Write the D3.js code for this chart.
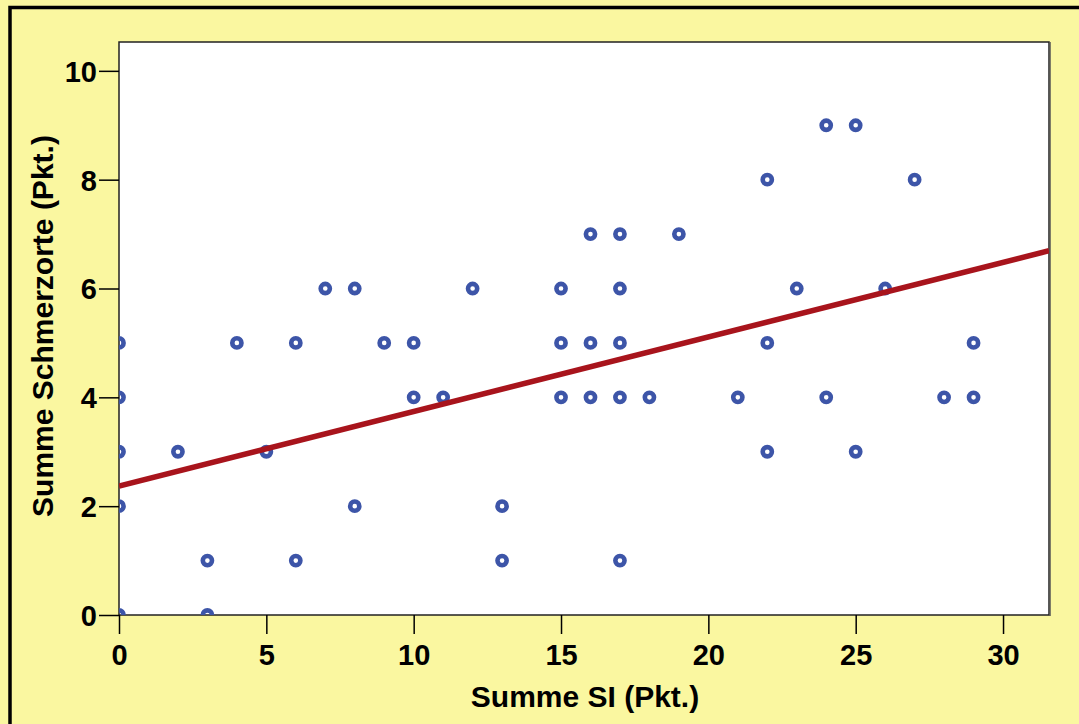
<!DOCTYPE html>
<html><head><meta charset="utf-8">
<script src="https://cdn.jsdelivr.net/npm/d3@7"></script>
<style>body{margin:0;background:#fff;}svg{display:block;}</style>
</head><body>
<svg id="c" width="1079" height="724"></svg>
<script>
const xValues = [0,0,0,0,0,2,3,3,4,5,6,6,7,8,8,9,10,10,11,12,13,13,15,15,15,16,16,16,17,17,17,17,17,18,19,21,22,22,22,23,24,24,25,25,26,27,28,29,29];
const yValues = [0,2,3,4,5,3,1,0,5,3,5,1,6,6,2,5,5,4,4,6,2,1,6,5,4,7,5,4,7,6,5,4,1,4,7,4,8,5,3,6,9,4,9,3,6,8,4,5,4];
const xTicks = [0,5,10,15,20,25,30];
const yTicks = [0,2,4,6,8,10];
const fitLine = {intercept: 2.37, slope: 0.137};
const xTitle = "Summe SI (Pkt.)";
const yTitle = "Summe Schmerzorte (Pkt.)";

const FONT = "'Liberation Sans', Arial, sans-serif";
const svg = d3.select("#c");
const W = 1079, H = 724;
const m = {l:119, t:42, r:1049, b:615};
svg.append("rect").attr("x",0).attr("y",0).attr("width",W).attr("height",H).attr("fill","#faf7a0");
svg.append("path").attr("d",`M10,${H} V7.5 H${W}`).attr("fill","none").attr("stroke","#000").attr("stroke-width",3.5);

const x = d3.scaleLinear().domain([0, 31.56]).range([m.l, m.r]);
const y = d3.scaleLinear().domain([0, 10.53]).range([m.b, m.t]);

svg.append("rect").attr("x",m.l).attr("y",m.t).attr("width",m.r-m.l).attr("height",m.b-m.t)
  .attr("fill","#fff").attr("stroke","#222").attr("stroke-width",1.5);
svg.append("line").attr("x1",m.r+1).attr("x2",m.r+1).attr("y1",m.t).attr("y2",m.b+1).attr("stroke","#555").attr("stroke-width",1.5);

svg.append("clipPath").attr("id","clip").append("rect").attr("x",m.l).attr("y",m.t).attr("width",m.r-m.l).attr("height",m.b-m.t);

const xAxis = svg.append("g").attr("transform",`translate(0,${m.b})`)
  .call(d3.axisBottom(x).tickValues(xTicks).tickSize(19).tickPadding(6).tickFormat(d3.format("d")));
const yAxis = svg.append("g").attr("transform",`translate(${m.l},0)`)
  .call(d3.axisLeft(y).tickValues(yTicks).tickSize(20).tickPadding(2).tickFormat(d3.format("d")));
[xAxis,yAxis].forEach(a=>{
  a.select(".domain").remove();
  a.selectAll(".tick line").attr("stroke","#000").attr("stroke-width",1.5);
  a.selectAll(".tick text").attr("fill","#000").style("font-family",FONT)
   .style("font-size","29px").style("font-weight","bold");
});
xAxis.selectAll(".tick line").attr("y1",0);
xAxis.selectAll(".tick text").attr("y",50).attr("dy",0);
yAxis.selectAll(".tick text").attr("dy","0.36em");

const pts = svg.append("g").attr("clip-path","url(#clip)");
pts.selectAll("circle").data(xValues.map((d,i)=>[d,yValues[i]])).join("circle")
  .attr("cx",d=>x(d[0])).attr("cy",d=>y(d[1])).attr("r",4.6)
  .attr("fill","none").attr("stroke","#3d55a8").attr("stroke-width",4.6);

const dom = x.domain();
svg.append("line").attr("clip-path","url(#clip)")
  .attr("x1",x(dom[0])).attr("y1",y(fitLine.intercept+fitLine.slope*dom[0]))
  .attr("x2",x(dom[1])).attr("y2",y(fitLine.intercept+fitLine.slope*dom[1]))
  .attr("stroke","#a8141c").attr("stroke-width",5.5);

svg.append("text").attr("x",585).attr("y",707).attr("text-anchor","middle")
  .style("font-family",FONT).style("font-size","30px").style("font-weight","bold")
  .text(xTitle);
svg.append("text").attr("transform","translate(53,326) rotate(-90)").attr("text-anchor","middle")
  .style("font-family",FONT).style("font-size","30px").style("font-weight","bold")
  .text(yTitle);
</script>
</body></html>
